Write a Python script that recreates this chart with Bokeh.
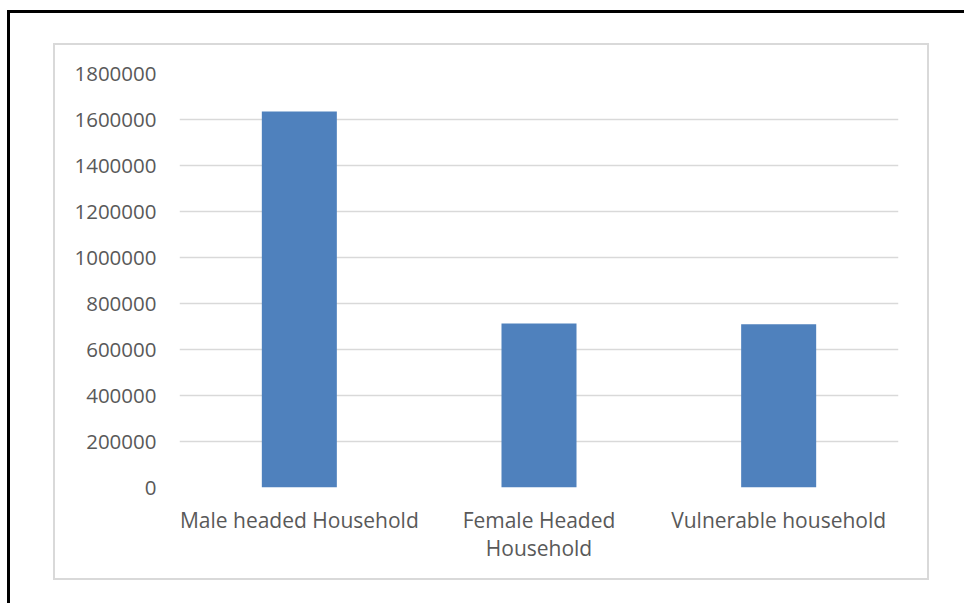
from bokeh.plotting import figure
from bokeh.models import (FactorRange, Range1d, FixedTicker, BasicTickFormatter,
                          ColumnDataSource, CustomJSTickFormatter, InlineStyleSheet)
from bokeh.embed import file_html
from bokeh.resources import INLINE

# Households by type
categories = ["Male headed Household", "Female Headed Household", "Vulnerable household"]
households = [1635000, 713000, 710000]
y_ticks = [0, 200000, 400000, 600000, 800000, 1000000, 1200000, 1400000, 1600000, 1800000]
# category names that wrap onto two lines
wrapped = {"Female Headed Household": "Female Headed\nHousehold"}

FONT = "Open Sans"
FONT_SIZE = "21px"
TEXT_COLOR = "#595959"
GRID_COLOR = "#d9d9d9"
BAR_COLOR = "#4f81bd"

W, H = 964, 603
FRAME_L, FRAME_R, FRAME_T, FRAME_B = 179, 898, 73, 487

# chart-area border (light grey) and page border (black, top and left)
borders = InlineStyleSheet(css=f"""
:host {{ position: relative; }}
:host::before {{
  content: ""; position: absolute; pointer-events: none; z-index: 5;
  left: 53px; top: 43px; width: 872px; height: 533px;
  border: 2px solid {GRID_COLOR};
}}
:host::after {{
  content: ""; position: absolute; pointer-events: none; z-index: 5;
  left: 7px; top: 10px; right: 0; bottom: 0;
  border-top: 3px solid black; border-left: 3px solid black;
}}
""")

p = figure(
    width=W, height=H,
    x_range=FactorRange(*categories),
    y_range=Range1d(0, 1800000),
    output_backend="svg", toolbar_location=None,
    min_border_left=FRAME_L, min_border_right=W - FRAME_R,
    min_border_top=FRAME_T, min_border_bottom=H - FRAME_B,
    background_fill_color="white", border_fill_color="white",
    stylesheets=[borders],
)
p.outline_line_color = None

src = ColumnDataSource(dict(cat=categories, val=households))
p.vbar(x="cat", top="val", width=0.313, source=src,
       fill_color=BAR_COLOR, line_color=None)

# y axis
p.yaxis.ticker = FixedTicker(ticks=y_ticks)
p.yaxis.formatter = BasicTickFormatter(use_scientific=False)
p.yaxis.axis_line_color = None
p.yaxis.major_tick_line_color = None
p.yaxis.minor_tick_line_color = None
p.yaxis.major_label_standoff = 17
p.yaxis.major_label_text_font = FONT
p.yaxis.major_label_text_font_size = "20.5px"
p.yaxis.major_label_text_color = TEXT_COLOR

# x axis
p.xaxis.formatter = CustomJSTickFormatter(args=dict(wrapped=wrapped), code="""
    return wrapped[tick] !== undefined ? wrapped[tick] : tick
""")
p.xaxis.axis_line_color = None
p.xaxis.major_tick_line_color = None
p.xaxis.major_tick_out = 0
p.xaxis.major_label_standoff = 18
p.xaxis.major_label_text_font = FONT
p.xaxis.major_label_text_font_size = FONT_SIZE
p.xaxis.major_label_text_line_height = 1.0
p.xaxis.major_label_text_color = TEXT_COLOR

p.xgrid.grid_line_color = None
p.ygrid.grid_line_color = GRID_COLOR
p.ygrid.grid_line_width = 1.5

open("out.html", "w").write(file_html(p, INLINE))
